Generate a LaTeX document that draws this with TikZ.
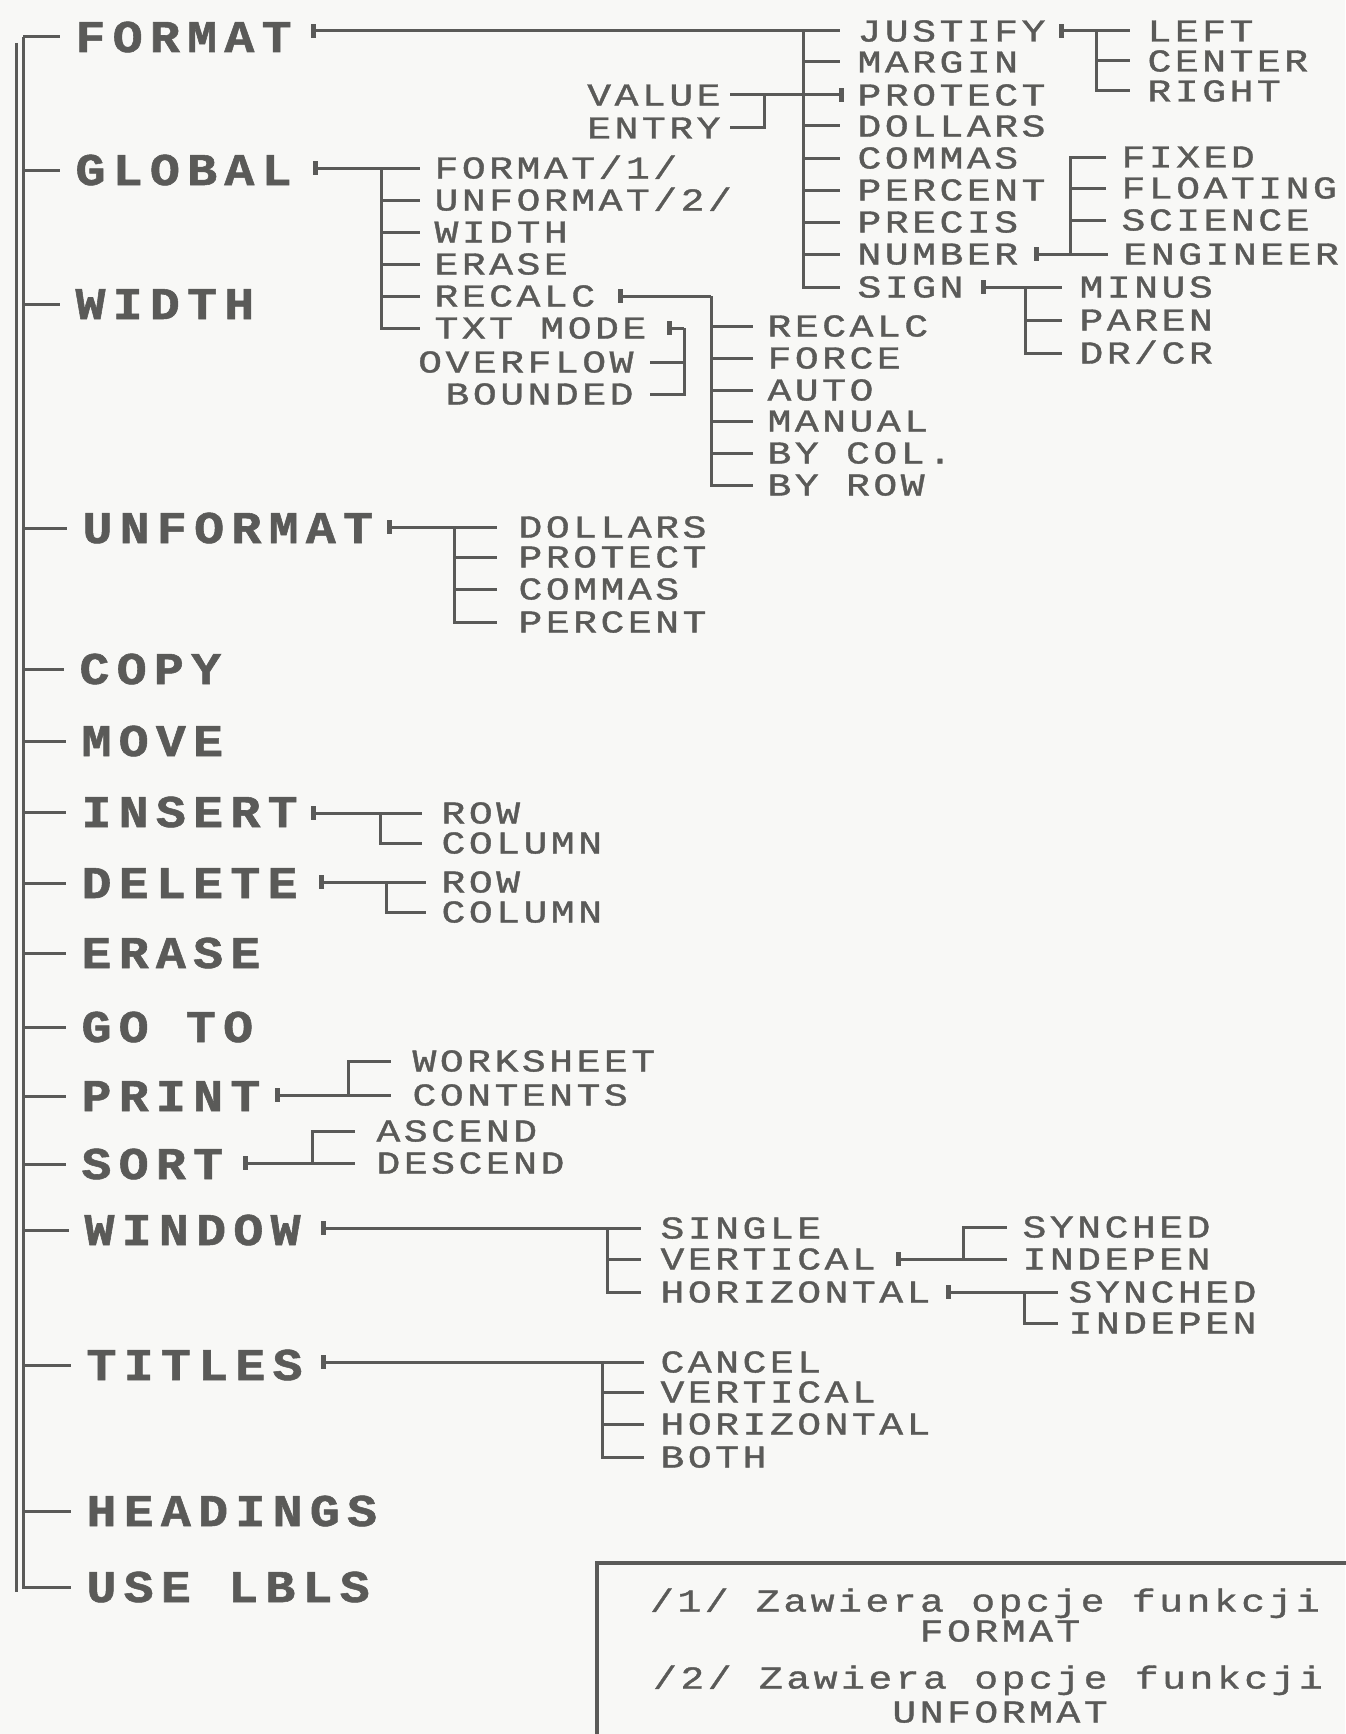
\documentclass[tikz,border=0pt]{standalone}
\usepackage{fontspec}
\newfontfamily\menufont{Liberation Mono}[FakeStretch=1.1,LetterSpace=16,FakeBold=1.2]
\newfontfamily\optfont{Liberation Mono}[FakeStretch=1.25,LetterSpace=11,FakeBold=1.2]
\definecolor{ink}{RGB}{90,90,88}
\definecolor{paper}{RGB}{248,248,246}
\tikzset{
  menu/.style={font=\menufont\bfseries\fontsize{22.7}{26}\selectfont, inner sep=0pt, anchor=west, text height=15pt, text depth=0pt},
  opt/.style={font=\optfont\fontsize{15.9}{18}\selectfont, inner sep=0pt, anchor=west, text height=10.5pt, text depth=0pt},
  stub/.style={fill=ink, inner sep=0pt, minimum width=2.5pt, minimum height=7pt},
}
\begin{document}
\begin{tikzpicture}[x=0.5pt, y=-0.5pt, color=ink, line width=1.5pt]
	\useasboundingbox (0,0) rectangle (1345,1734);
	\fill[paper] (0,0) rectangle (1345,1734);
	% glowne menu
	\foreach \n/\x/\y/\t in {format/74/37/FORMAT, global/74/170/GLOBAL, width/74/304/WIDTH, unformat/81/528/UNFORMAT,
		copy/78/669/COPY, move/80/741/MOVE, insert/80/812/INSERT, delete/80/883/DELETE, erase/80/953/ERASE,
		goto/80/1027/GO TO, print/80/1096/PRINT, sort/80/1164/SORT, window/83/1230/WINDOW,
		titles/85/1365/TITLES, headings/85/1511/HEADINGS, uselbls/85/1587/USE LBLS}
		\node[menu] (\n) at (\x,\y) {\t};
	\coordinate (trunk) at (23,37);
	\draw (16,43) -- (16,1592);
	\foreach \n in {format,global,width,unformat,copy,move,insert,delete,erase,goto,print,sort,window,titles,headings,uselbls}
		\draw (trunk) |- ([xshift=-7pt]\n.west);
	% FORMAT
	\node[stub] (fmk) at (313,31) {};
	\coordinate (fbus) at (803,31);
	\foreach \n/\y/\t in {fjust/31/JUSTIFY, fmarg/62/MARGIN, fprot/95/PROTECT, fdoll/126/DOLLARS, fcomm/158/COMMAS,
		fperc/190/PERCENT, fprec/222/PRECIS, fnumb/254/NUMBER, fsign/287/SIGN}
		\node[opt] (\n) at (856,\y) {\t};
	\draw (fmk.center) -- ([xshift=-8pt]fjust.west);
	\foreach \n in {fmarg,fdoll,fcomm,fperc,fprec,fnumb,fsign}
		\draw (fbus) |- ([xshift=-8pt]\n.west);
	\node[stub] (fpmk) at (841,95) {};
	\draw (fbus) |- (fpmk.center);
	\node[opt, anchor=east] (fval) at (722,95) {VALUE};
	\node[opt, anchor=east] (fent) at (722,128) {ENTRY};
	\coordinate (fvbus) at (764,95);
	\draw ([xshift=4pt]fval.east) -- (fpmk.center);
	\draw (fvbus) |- ([xshift=4pt]fent.east);
	% JUSTIFY
	\node[stub] (jmk) at (1061,31) {};
	\coordinate (jbus) at (1096,31);
	\foreach \n/\y/\t in {jleft/31/LEFT, jcent/61/CENTER, jright/91/RIGHT}
		\node[opt] (\n) at (1146,\y) {\t};
	\draw (jmk.center) -- ([xshift=-8pt]jleft.west);
	\foreach \n in {jcent,jright}
		\draw (jbus) |- ([xshift=-8pt]\n.west);
	% NUMBER
	\node[stub] (nmk) at (1036,254) {};
	\coordinate (nbus) at (1070,254);
	\foreach \n/\x/\y/\t in {nfix/1120/157/FIXED, nfloat/1120/188/FLOATING, nsci/1120/220/SCIENCE, neng/1122/254/ENGINEER}
		\node[opt] (\n) at (\x,\y) {\t};
	\draw (nmk.center) -- ([xshift=-7pt]neng.west);
	\foreach \n in {nfix,nfloat,nsci}
		\draw (nbus) |- ([xshift=-7pt]\n.west);
	% SIGN
	\node[stub] (smk) at (983,287) {};
	\coordinate (sbus) at (1025,287);
	\foreach \n/\y/\t in {sminus/287/MINUS, sparen/320/PAREN, sdrcr/353/{DR/CR}}
		\node[opt] (\n) at (1078,\y) {\t};
	\draw (smk.center) -- ([xshift=-8pt]sminus.west);
	\foreach \n in {sparen,sdrcr}
		\draw (sbus) |- ([xshift=-8pt]\n.west);
	% GLOBAL
	\node[stub] (gmk) at (315,168) {};
	\coordinate (gbus) at (381,168);
	\foreach \n/\y/\t in {gform/168/{FORMAT/1/}, gunf/200/{UNFORMAT/2/}, gwid/232/WIDTH, geras/264/ERASE,
		grec/296/RECALC, gtxt/328/TXT MODE}
		\node[opt] (\n) at (433,\y) {\t};
	\draw (gmk.center) -- ([xshift=-6.5pt]gform.west);
	\foreach \n in {gunf,gwid,geras,grec,gtxt}
		\draw (gbus) |- ([xshift=-6.5pt]\n.west);
	% RECALC
	\node[stub] (rmk) at (620,296) {};
	\coordinate (rbus) at (711,296);
	\foreach \n/\y/\t in {rrec/326/RECALC, rforce/358/FORCE, rauto/390/AUTO, rman/421/MANUAL, rcol/453/BY COL., rrow/485/BY ROW}
		\node[opt] (\n) at (766,\y) {\t};
	\draw (rmk.center) -- (rbus);
	\foreach \n in {rrec,rforce,rauto,rman,rcol,rrow}
		\draw (rbus) |- ([xshift=-6.5pt]\n.west);
	% TXT MODE
	\node[stub] (gtmk) at (669,328) {};
	\coordinate (gtbus) at (684,328);
	\node[opt, anchor=east] (gover) at (635,362) {OVERFLOW};
	\node[opt, anchor=east] (gbound) at (635,394) {BOUNDED};
	\draw (gtmk.center) -- (gtbus);
	\draw (gtbus) |- ([xshift=7.5pt]gover.east);
	\draw (gtbus) |- ([xshift=7.5pt]gbound.east);
	% UNFORMAT
	\node[stub] (umk) at (389,527) {};
	\coordinate (ubus) at (454,527);
	\foreach \n/\y/\t in {udoll/527/DOLLARS, uprot/557/PROTECT, ucomm/589/COMMAS, uperc/622/PERCENT}
		\node[opt] (\n) at (517,\y) {\t};
	\draw (umk.center) -- ([xshift=-10pt]udoll.west);
	\foreach \n in {uprot,ucomm,uperc}
		\draw (ubus) |- ([xshift=-10pt]\n.west);
	% INSERT, DELETE
	\node[stub] (imk) at (313,813) {};
	\coordinate (ibus) at (380,813);
	\node[opt] (irow) at (440,813) {ROW};
	\node[opt] (icol) at (440,843) {COLUMN};
	\draw (imk.center) -- ([xshift=-9pt]irow.west);
	\draw (ibus) |- ([xshift=-9pt]icol.west);
	\node[stub] (dmk) at (321,882) {};
	\coordinate (dbus) at (386,882);
	\node[opt] (drow) at (440,882) {ROW};
	\node[opt] (dcol) at (440,912) {COLUMN};
	\draw (dmk.center) -- ([xshift=-7pt]drow.west);
	\draw (dbus) |- ([xshift=-7pt]dcol.west);
	% PRINT, SORT
	\node[stub] (prmk) at (277,1095) {};
	\coordinate (prbus) at (348,1095);
	\node[opt] (pwork) at (411,1061) {WORKSHEET};
	\node[opt] (pcont) at (411,1095) {CONTENTS};
	\draw (prmk.center) -- ([xshift=-10pt]pcont.west);
	\draw (prbus) |- ([xshift=-10pt]pwork.west);
	\node[stub] (somk) at (245,1163) {};
	\coordinate (sobus) at (312,1163);
	\node[opt] (sasc) at (375,1131) {ASCEND};
	\node[opt] (sdesc) at (375,1163) {DESCEND};
	\draw (somk.center) -- ([xshift=-10pt]sdesc.west);
	\draw (sobus) |- ([xshift=-10pt]sasc.west);
	% WINDOW
	\node[stub] (wmk) at (323,1228) {};
	\coordinate (wbus) at (607,1228);
	\foreach \n/\y/\t in {wsing/1228/SINGLE, wvert/1259/VERTICAL, whor/1292/HORIZONTAL}
		\node[opt] (\n) at (659,\y) {\t};
	\draw (wmk.center) -- ([xshift=-9pt]wsing.west);
	\foreach \n in {wvert,whor}
		\draw (wbus) |- ([xshift=-9pt]\n.west);
	\node[stub] (wvmk) at (898,1259) {};
	\coordinate (wvbus) at (963,1259);
	\node[opt] (wvsyn) at (1021,1227) {SYNCHED};
	\node[opt] (wvind) at (1021,1259) {INDEPEN};
	\draw (wvmk.center) -- ([xshift=-7pt]wvind.west);
	\draw (wvbus) |- ([xshift=-7pt]wvsyn.west);
	\node[stub] (whmk) at (948,1292) {};
	\coordinate (whbus) at (1024,1292);
	\node[opt] (whsyn) at (1067,1292) {SYNCHED};
	\node[opt] (whind) at (1067,1323) {INDEPEN};
	\draw (whmk.center) -- ([xshift=-4.5pt]whsyn.west);
	\draw (whbus) |- ([xshift=-4.5pt]whind.west);
	% TITLES
	\node[stub] (timk) at (323,1362) {};
	\coordinate (tibus) at (602,1362);
	\foreach \n/\y/\t in {tican/1362/CANCEL, tivert/1392/VERTICAL, tihor/1424/HORIZONTAL, tiboth/1457/BOTH}
		\node[opt] (\n) at (659,\y) {\t};
	\draw (timk.center) -- ([xshift=-7.5pt]tican.west);
	\foreach \n in {tivert,tihor,tiboth}
		\draw (tibus) |- ([xshift=-7.5pt]\n.west);
	% przypisy
	\draw[line width=2.2pt] (597,1563) rectangle (1420,1800);
	\node[opt, anchor=center] (note1) at (985,1601) {/1/ Zawiera opcje funkcji};
	\node[opt, anchor=center] (note2) at (1000,1631) {FORMAT};
	\node[opt, anchor=center] (note3) at (988,1678) {/2/ Zawiera opcje funkcji};
	\node[opt, anchor=center] (note4) at (1000,1712) {UNFORMAT};
\end{tikzpicture}
\end{document}
